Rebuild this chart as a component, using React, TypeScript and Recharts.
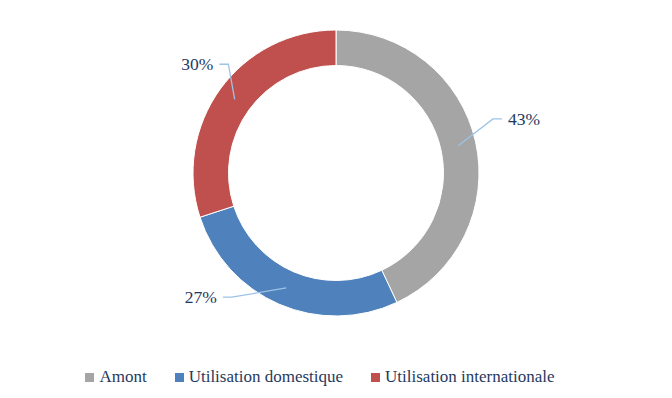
import { PieChart, Pie, Cell, Legend } from 'recharts'

const categories = ['Amont', 'Utilisation domestique', 'Utilisation internationale']
const shares = [43, 27, 30]
const colors = ['#A5A5A5', '#4F81BD', '#C0504D']

const data = categories.map((name, i) => ({ name, value: shares[i], color: colors[i] }))

const TEXT = '#1F3A60'
const LINE = '#9DC3E6'
const FONT = '"Liberation Serif", serif'
const RAD = Math.PI / 180

// elbow of each leader line, as (radius, angle) around the centre, like Excel placed them
const elbows = [
  { r: 166, a: 19 },
  { r: 162, a: -130 },
  { r: 153, a: 134.7 },
]

function renderLabel(props: any) {
  const { cx, cy, midAngle, innerRadius, outerRadius, index, percent } = props
  const rMid = (innerRadius + outerRadius) / 2
  const sx = cx + rMid * Math.cos(-midAngle * RAD)
  const sy = cy + rMid * Math.sin(-midAngle * RAD)
  const e = elbows[index]
  const ex = cx + e.r * Math.cos(-e.a * RAD)
  const ey = cy + e.r * Math.sin(-e.a * RAD)
  const right = ex > cx
  const hx = ex + (right ? 9 : -9)
  return (
    <g>
      <polyline points={`${sx},${sy} ${ex},${ey} ${hx},${ey}`} fill="none" stroke={LINE} strokeWidth={1.3} />
      <text
        x={hx + (right ? 6 : -6)}
        y={ey}
        dy={6}
        textAnchor={right ? 'start' : 'end'}
        fill={TEXT}
        fontSize={17.5}
        fontFamily={FONT}
      >
        {`${Math.round(percent * 100)}%`}
      </text>
    </g>
  )
}

function renderLegend() {
  return (
    <div style={{ display: 'flex', justifyContent: 'center', gap: 28, fontFamily: FONT, fontSize: 17, color: TEXT, transform: 'translateX(-16px)' }}>
      {data.map(d => (
        <div key={d.name} style={{ display: 'flex', alignItems: 'center' }}>
          <span style={{ display: 'inline-block', width: 9, height: 9, background: d.color, marginRight: 5 }} />
          <span>{d.name}</span>
        </div>
      ))}
    </div>
  )
}

export default function App() {
  return (
    <div style={{ position: 'absolute', left: 0, top: 0, width: 672, height: 398, background: '#fff' }}>
      <PieChart width={672} height={398}>
        <Pie
          data={data}
          dataKey="value"
          cx={331}
          cy={168}
          innerRadius={107.5}
          outerRadius={143}
          startAngle={90}
          endAngle={-270}
          stroke="#fff"
          strokeWidth={1}
          label={renderLabel}
          labelLine={false}
          isAnimationActive={false}
        >
          {data.map((d, i) => (
            <Cell key={`cell-${i}`} fill={d.color} />
          ))}
        </Pie>
        <Legend verticalAlign="bottom" content={renderLegend} wrapperStyle={{ bottom: 11 }} />
      </PieChart>
    </div>
  )
}
